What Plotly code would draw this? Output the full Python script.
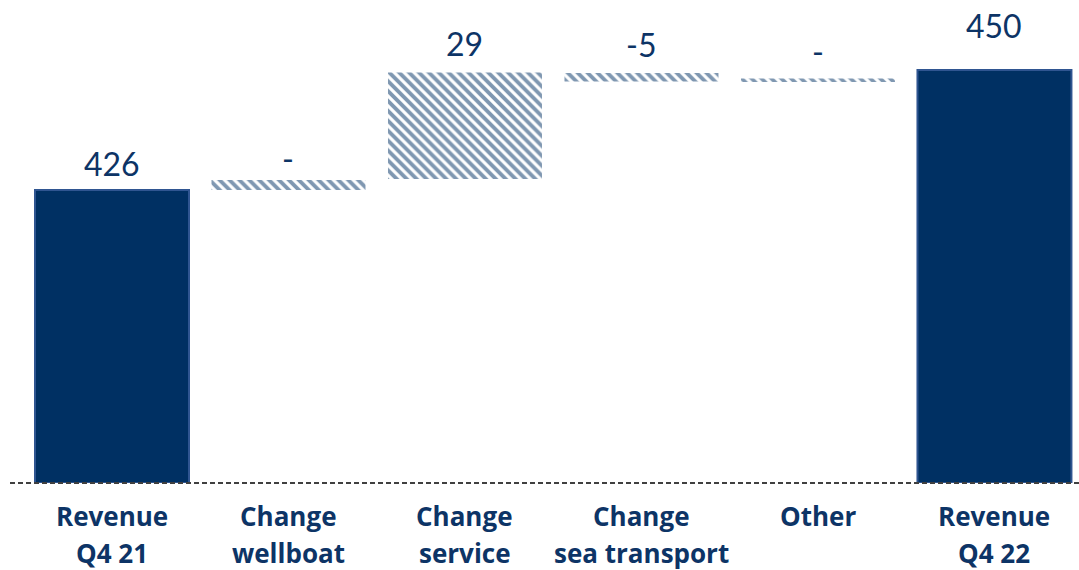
import plotly.graph_objects as go

# ---- data ----
categories = ["Revenue<br>Q4 21", "Change<br>wellboat", "Change<br>service",
              "Change<br>sea transport", "Other", "Revenue<br>Q4 22"]
bar_start = [367.4, 426.0, 428.2, 447.7, 447.6, 367.4]
bar_end = [426.0, 428.0, 449.5, 449.4, 448.3, 450.0]
value_labels = ["426", "-", "29", "-5", "-", "450"]
is_total = [True, False, False, False, False, True]

# ---- style ----
NAVY = "#003063"
BORDER = "#2F5591"
TEXT = "#0D3466"
label_offsets = [27, 22, 29, 29, 27, 45]

x_idx = list(range(len(categories)))
heights = [e - s for s, e in zip(bar_start, bar_end)]

fig = go.Figure()

tot_x = [i for i in x_idx if is_total[i]]
fig.add_trace(go.Bar(
    x=tot_x, y=[heights[i] for i in tot_x], base=[bar_start[i] for i in tot_x],
    width=0.8725, marker=dict(color=NAVY, line=dict(color=BORDER, width=2)),
    hoverinfo="skip"))

chg_x = [i for i in x_idx if not is_total[i]]
fig.add_trace(go.Bar(
    x=chg_x, y=[heights[i] for i in chg_x], base=[bar_start[i] for i in chg_x],
    width=0.8725,
    marker=dict(color="white", line=dict(width=0),
                pattern=dict(shape="\\", fgcolor=NAVY, bgcolor="white",
                             size=7, solidity=0.55, fillmode="overlay")),
    hoverinfo="skip"))

for i in x_idx:
    fig.add_annotation(x=i, y=bar_end[i], text=value_labels[i], showarrow=False,
                       yanchor="middle", yshift=label_offsets[i],
                       font=dict(family="Lato", size=32, color=TEXT))
    lines = categories[i].split("<br>")
    for j, ln in enumerate(lines):
        fig.add_annotation(x=i, y=0, yref="paper", text="<b>%s</b>" % ln,
                           showarrow=False, yanchor="middle",
                           yshift=-33 - 37 * j,
                           font=dict(family="Open Sans", size=26, color=TEXT))

fig.add_shape(type="line", xref="paper", yref="paper", x0=10 / 1079, x1=1,
              y0=0, y1=0, line=dict(color="#404040", width=2, dash="5px,3px"))

fig.update_layout(
    width=1079, height=570, margin=dict(l=0, r=0, t=0, b=87),
    paper_bgcolor="white", plot_bgcolor="white", showlegend=False,
    barmode="overlay",
    xaxis=dict(range=[-0.6346, 5.479], showticklabels=False, showgrid=False,
               zeroline=False, showline=False, ticks=""),
    yaxis=dict(range=[367.4, 464], visible=False, showgrid=False, zeroline=False),
)

fig.write_html("out.html")
